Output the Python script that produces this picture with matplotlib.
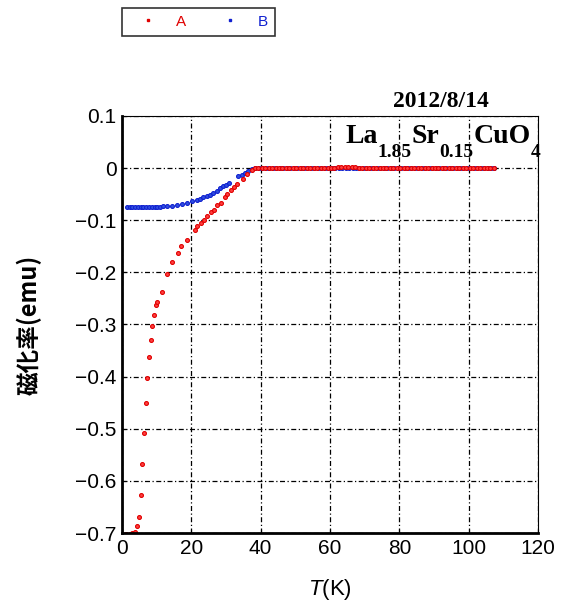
import matplotlib.pyplot as plt
from matplotlib.lines import Line2D

plt.rcParams['mathtext.fontset'] = 'custom'
plt.rcParams['mathtext.it'] = 'Liberation Sans:italic'

# sample A (red): temperature (K) and magnetisation (emu)
temp_a = [1.2, 2.3, 3.0, 3.8, 4.3, 4.9, 5.4, 5.8, 6.3, 6.8, 7.3, 7.9, 8.4, 8.7,
          9.3, 9.9, 10.0, 11.5, 13.0, 14.5, 16.1, 17.0, 18.7, 21.1, 21.7, 22.7,
          23.7, 24.6, 25.6, 26.5, 27.5, 28.5, 29.7, 30.4, 31.4, 32.3, 33.3,
          35.0, 36.0, 37.4,
          38.3, 39.3, 40.3, 41.3, 42.3, 43.3, 44.3, 45.3, 46.3, 47.3, 48.3,
          49.3, 50.3, 51.3, 52.3, 53.3, 54.3, 55.3, 56.3, 57.3, 58.3, 59.3,
          60.3, 61.3, 62.3, 63.3, 64.3, 65.3, 66.3, 67.3, 68.3, 69.3, 70.3,
          71.3, 72.3, 73.3, 74.3, 75.3, 76.3, 77.3, 78.3, 79.3, 80.3, 81.3,
          82.3, 83.3, 84.3, 85.3, 86.3, 87.3, 88.3, 89.3, 90.3, 91.3, 92.3,
          93.3, 94.3, 95.3, 96.3, 97.3, 98.3, 99.3, 100.3, 101.3, 102.3, 103.3,
          104.3, 105.3, 106.3, 107.3]
mag_a = [-0.702, -0.701, -0.700, -0.698, -0.687, -0.669, -0.627, -0.567, -0.508,
         -0.451, -0.402, -0.362, -0.329, -0.303, -0.281, -0.262, -0.256, -0.237,
         -0.203, -0.180, -0.163, -0.149, -0.137, -0.118, -0.112, -0.105, -0.099,
         -0.091, -0.085, -0.080, -0.070, -0.066, -0.055, -0.050, -0.042, -0.037,
         -0.031, -0.020, -0.012, -0.004,
         0.000, 0.000, 0.000, 0.000, 0.000, 0.000, 0.000, 0.000, 0.000, 0.000,
         0.000, 0.000, 0.000, 0.000, 0.000, 0.000, 0.000, 0.000, 0.000, 0.000,
         0.000, 0.000, 0.001, 0.001, 0.002, 0.002, 0.002, 0.002, 0.002, 0.002,
         0.001, 0.001, 0.000, 0.000, 0.000, 0.000, 0.000, 0.000, 0.000, 0.000,
         0.000, 0.000, 0.000, 0.000, 0.000, 0.000, 0.000, 0.000, 0.000, 0.000,
         0.000, 0.000, 0.000, 0.000, 0.000, 0.000, 0.000, 0.000, 0.000, 0.000,
         0.000, 0.000, 0.000, 0.000, 0.000, 0.000, 0.000, 0.000, 0.000, 0.000]

# sample B (blue)
temp_b = [1.4, 2.2, 3.0, 3.8, 4.6, 5.4, 6.2, 7.0, 7.8, 8.6, 9.4, 10.2, 11.0,
          11.8, 12.9, 14.3, 15.8, 17.2, 18.7, 20.1, 21.5, 22.5, 23.5, 24.5,
          25.4, 26.4, 27.3, 28.3, 29.2, 30.0, 30.9, 33.6, 34.5, 35.5, 36.4,
          37.5,
          38.5, 39.5, 40.5, 41.5, 42.5, 43.5, 44.5, 45.5, 46.5, 47.5, 48.5,
          49.5, 50.5, 51.5, 52.5, 53.5, 54.5, 55.5, 56.5, 57.5, 58.5, 59.5,
          60.5, 61.5, 62.5, 63.5, 64.5, 65.5, 66.5, 67.5, 68.5, 69.5, 70.5,
          71.5, 72.5, 73.5, 74.5, 75.5, 76.5, 77.5, 78.5, 79.5, 80.5, 81.5,
          82.5, 83.5, 84.5, 85.5, 86.5, 87.5, 88.5, 89.5, 90.5, 91.5, 92.5,
          93.5, 94.5, 95.5, 96.5, 97.5, 98.5, 99.5, 100.5, 101.5, 102.5, 103.5,
          104.5, 105.5, 106.5, 107.3]
mag_b = [-0.074, -0.074, -0.074, -0.074, -0.074, -0.074, -0.074, -0.074,
         -0.074, -0.074, -0.074, -0.074, -0.074, -0.073, -0.073, -0.072,
         -0.071, -0.069, -0.067, -0.064, -0.062, -0.059, -0.056, -0.054,
         -0.051, -0.047, -0.043, -0.039, -0.035, -0.032, -0.029, -0.016,
         -0.013, -0.009, -0.005, -0.001,
         0.000, 0.000, 0.000, 0.000, 0.000, 0.000, 0.000, 0.000, 0.000, 0.000,
         0.000, 0.000, 0.000, 0.000, 0.000, 0.000, 0.000, 0.000, 0.000, 0.000,
         0.000, 0.000, 0.000, 0.000, 0.000, 0.000, 0.000, 0.000, 0.000, 0.000,
         0.000, 0.000, 0.000, 0.000, 0.000, 0.000, 0.000, 0.000, 0.000, 0.000,
         0.000, 0.000, 0.000, 0.000, 0.000, 0.000, 0.000, 0.000, 0.000, 0.000,
         0.000, 0.000, 0.000, 0.000, 0.000, 0.000, 0.000, 0.000, 0.000, 0.000,
         0.000, 0.000, 0.000, 0.000, 0.000, 0.000, 0.000, 0.000, 0.000, 0.000]

xticks = [0, 20, 40, 60, 80, 100, 120]
yticks = [-0.7, -0.6, -0.5, -0.4, -0.3, -0.2, -0.1, 0, 0.1]
ytick_labels = ['−0.7', '−0.6', '−0.5', '−0.4', '−0.3', '−0.2', '−0.1', '0', '0.1']

# chemical formula, drawn piece by piece: (text, is_subscript)
formula = [('La', False), ('1.85', True), ('Sr', False), ('0.15', True),
           ('CuO', False), ('4', True)]

fig = plt.figure(figsize=(5.66, 6.04), dpi=100)
ax = fig.add_axes([0.2155, 0.1175, 0.735, 0.6905])

ax.plot(temp_b, mag_b, 'o', ms=2.8, mfc='#3050e0', mec='#1020d0', mew=0.8, ls='none')
ax.plot(temp_a, mag_a, 'o', ms=2.8, mfc='#ff4040', mec='#e00000', mew=0.8, ls='none')

ax.set_xlim(0, 120)
ax.set_ylim(-0.7, 0.1)
ax.set_xticks(xticks)
ax.set_yticks(yticks)
ax.set_yticklabels(ytick_labels)
ax.grid(True, color='black', ls=(0, (4, 2, 1, 2)), lw=0.9)
ax.tick_params(direction='in', length=3, labelsize=15, pad=4)
for lbl in ax.get_xticklabels() + ax.get_yticklabels():
    lbl.set_family('Liberation Sans')

ax.spines['left'].set_linewidth(2)
ax.spines['bottom'].set_linewidth(2)
ax.spines['top'].set_linewidth(0.8)
ax.spines['right'].set_linewidth(0.8)

ax.set_xlabel('$\\mathit{T}$(K)', fontsize=16, family='Liberation Sans', labelpad=14)
ax.set_ylabel('磁化率(emu)', fontsize=17, family=['Noto Sans CJK JP', 'DejaVu Sans'],
              fontweight='bold', labelpad=24)

fig.text(0.779, 0.823, '2012/8/14', fontsize=17, fontweight='bold',
         family='Liberation Serif', ha='center', va='baseline')

# formula laid out left to right in pixel units
renderer = fig.canvas.get_renderer()
x_px = 345
for txt, sub in formula:
    t = fig.text(x_px / 566, 1 - (157 if sub else 143) / 604, txt,
                 fontsize=14 if sub else 20, fontweight='bold',
                 family='Liberation Serif', ha='left', va='baseline')
    x_px += t.get_window_extent(renderer).width

handles = [Line2D([], [], marker='s', ms=2, color='#e00000', ls='none'),
           Line2D([], [], marker='s', ms=2, color='#1020d0', ls='none')]
leg = fig.legend(handles, ['A', 'B'], loc='upper left', bbox_to_anchor=(0.215, 0.987),
                 borderaxespad=0, ncol=2, frameon=True, fancybox=False, edgecolor='black',
                 handletextpad=0.5, columnspacing=1.6, borderpad=0.45, handlelength=2.6,
                 prop={'family': 'Liberation Sans', 'size': 11})
leg.get_frame().set_linewidth(1.2)
for txt, c in zip(leg.get_texts(), ['#e00000', '#1020d0']):
    txt.set_color(c)

fig.savefig('out.png', dpi=100)
